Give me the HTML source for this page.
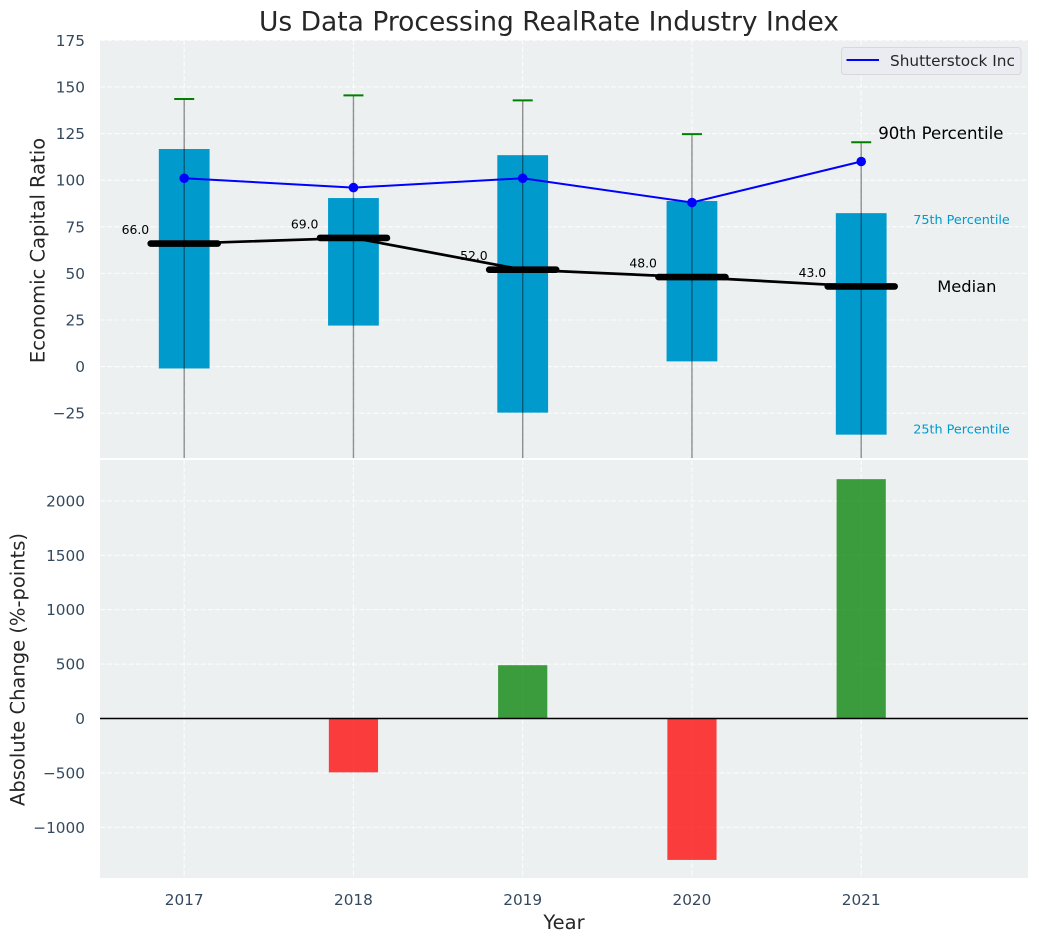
<!DOCTYPE html>
<html lang="en">
<head>
<meta charset="utf-8">
<title>Us Data Processing RealRate Industry Index</title>
<style>
html,body{margin:0;padding:0;background:#fff;}
svg{display:block;font-family:"DejaVu Sans","Liberation Sans",sans-serif;}
</style>
</head>
<body>
<svg id="chart" xmlns="http://www.w3.org/2000/svg" width="1039" height="942" viewBox="0 0 1039 942">
<defs>
<clipPath id="clip-top"><rect x="100" y="40" width="928" height="418"/></clipPath>
<clipPath id="clip-bottom"><rect x="100" y="460" width="928" height="418"/></clipPath>
</defs>
</svg>
<script>
const years = [2017, 2018, 2019, 2020, 2021];
const p90 = [143.5, 145.5, 142.8, 124.7, 120.3];
const p75 = [116.7, 90.4, 113.4, 88.8, 82.3];
const p25 = [-1, 22, -24.7, 2.8, -36.5];
const p10 = [-60, -60, -60, -60, -60];
const medians = [66, 69, 52, 48, 43];
const company = [101, 96, 101, 88, 110];
const changeYears = [2018, 2019, 2020, 2021];
const changes = [-495, 490, -1300, 2200];
const topTicks = [-25, 0, 25, 50, 75, 100, 125, 150, 175];
const bottomTicks = [-1000, -500, 0, 500, 1000, 1500, 2000];

const svg = document.getElementById('chart');
const NS = 'http://www.w3.org/2000/svg';
function x(v){ return 184.2 + (v - 2017) * 169.25; }
function yTop(v){ return 366.6 - v * 1.8645; }
function yBot(v){ return 718.5 - v * 0.1088; }
function make(tag, attrs, parent){
  const el = document.createElementNS(NS, tag);
  for (const k in attrs) el.setAttribute(k, attrs[k]);
  (parent || svg).appendChild(el);
  return el;
}
function fmt(n){ return String(n).replace('-', '\u2212'); }

const topBg = make('rect', {x:100, y:40, width:928, height:418, fill:'#ecf0f1'});


const botBg = make('rect', {x:100, y:460, width:928, height:418, fill:'#ecf0f1'});



const gridStyle = {stroke:'#ffffff', 'stroke-width':1.1, 'stroke-dasharray':'5 2.2', opacity:0.85};
topTicks.forEach(function(t){
  const g = make('line', Object.assign({x1:100, x2:1028, y1:yTop(t), y2:yTop(t)}, gridStyle));
  
  
  const l = make('text', {x:85, y:yTop(t) + 5.5, 'text-anchor':'end', 'font-size':15.3, fill:'#34495e'});
  l.textContent = fmt(t);
  
  
});
bottomTicks.forEach(function(t){
  const g = make('line', Object.assign({x1:100, x2:1028, y1:yBot(t), y2:yBot(t)}, gridStyle));
  
  
  const l = make('text', {x:85, y:yBot(t) + 5.5, 'text-anchor':'end', 'font-size':15.3, fill:'#34495e'});
  l.textContent = fmt(t);
  
  
});
years.forEach(function(yr){
  const a = make('line', Object.assign({x1:x(yr), x2:x(yr), y1:40, y2:458}, gridStyle));
  
  
  const b = make('line', Object.assign({x1:x(yr), x2:x(yr), y1:460, y2:878}, gridStyle));
  
  
  const l = make('text', {x:x(yr), y:905, 'text-anchor':'middle', 'font-size':15.3, fill:'#34495e'});
  l.textContent = yr;
  
  
});

const topLayer = make('g', {'clip-path':'url(#clip-top)'});


const botLayer = make('g', {'clip-path':'url(#clip-bottom)'});



years.forEach(function(yr, i){
  const bw = 0.3 * 169.25;
  const box = make('rect', {x:x(yr) - bw / 2, y:yTop(p75[i]), width:bw, height:yTop(p25[i]) - yTop(p75[i]), fill:'#009acd'}, topLayer);
  
  
});
years.forEach(function(yr, i){
  const w = make('line', {x1:x(yr), x2:x(yr), y1:yTop(p90[i]), y2:yTop(p10[i]), stroke:'#000', 'stroke-opacity':0.42, 'stroke-width':1.4}, topLayer);
  
  
  const c = make('line', {x1:x(yr) - 10, x2:x(yr) + 10, y1:yTop(p90[i]), y2:yTop(p90[i]), stroke:'#008000', 'stroke-width':2}, topLayer);
  
  
});

const medianLine = make('polyline', {points:years.map(function(yr, i){ return x(yr) + ',' + yTop(medians[i]); }).join(' '), fill:'none', stroke:'#000', 'stroke-width':2.7}, topLayer);


years.forEach(function(yr, i){
  const seg = make('line', {x1:x(yr) - 33.5, x2:x(yr) + 33.5, y1:yTop(medians[i]), y2:yTop(medians[i]), stroke:'#000', 'stroke-width':6.6, 'stroke-linecap':'round'}, topLayer);
  
  
  const t = make('text', {x:x(yr) - 35, y:yTop(medians[i]) - 9.5, 'text-anchor':'end', 'font-size':12.4, fill:'#000'}, topLayer);
  t.textContent = medians[i].toFixed(1);
  
  
});

const companyLine = make('polyline', {points:years.map(function(yr, i){ return x(yr) + ',' + yTop(company[i]); }).join(' '), fill:'none', stroke:'#0000ff', 'stroke-width':2}, topLayer);


years.forEach(function(yr, i){
  const d = make('circle', {cx:x(yr), cy:yTop(company[i]), r:4.8, fill:'#0000ff'}, topLayer);
  
  
});

changeYears.forEach(function(yr, i){
  const v = changes[i];
  const top = Math.min(yBot(v), yBot(0));
  const b = make('rect', {x:x(yr) - 24.6, y:top, width:49.2, height:Math.abs(yBot(v) - yBot(0)), fill:v < 0 ? '#ff0000' : '#008000', 'fill-opacity':0.75}, botLayer);
  
  
});
const zero = make('line', {x1:100, x2:1028, y1:yBot(0), y2:yBot(0), stroke:'#000', 'stroke-width':1.4});



const last = years.length - 1;
function note(name, label, tx, ty, size, color){
  const t = make('text', {x:tx, y:ty, 'font-size':size, fill:color});
  t.textContent = label;
  
  
}
note('p90-annotation', '90th Percentile', x(years[last]) + 17, yTop(p90[last]) - 3.5, 16.6, '#000');
note('p75-annotation', '75th Percentile', x(years[last]) + 52, yTop(p75[last]) + 11, 12.8, '#009acd');
note('median-annotation', 'Median', x(years[last]) + 76, yTop(medians[last]) + 5.5, 16.3, '#000');
note('p25-annotation', '25th Percentile', x(years[last]) + 52, yTop(p25[last]) - 1, 12.8, '#009acd');

const legend = make('g', {});


const legendBox = make('rect', {x:841.5, y:47.5, width:179.5, height:27, rx:3, fill:'#eaecf1', stroke:'#d8d8dc', 'stroke-width':1}, legend);


const legendLine = make('line', {x1:846.5, x2:879, y1:60, y2:60, stroke:'#0000ff', 'stroke-width':2}, legend);


const legendText = make('text', {x:890, y:66, 'font-size':15.3, fill:'#262626'}, legend);
legendText.textContent = 'Shutterstock Inc';



const title = make('text', {x:549, y:30.5, 'text-anchor':'middle', 'font-size':26.5, fill:'#262626'});
title.textContent = 'Us Data Processing RealRate Industry Index';


const yt1 = make('text', {x:0, y:0, 'text-anchor':'middle', 'font-size':19.5, fill:'#262626', transform:'translate(44.5 250.5) rotate(-90)'});
yt1.textContent = 'Economic Capital Ratio';


const yt2 = make('text', {x:0, y:0, 'text-anchor':'middle', 'font-size':19.5, fill:'#262626', transform:'translate(24.5 669.5) rotate(-90)'});
yt2.textContent = 'Absolute Change (%-points)';


const xt = make('text', {x:564, y:929, 'text-anchor':'middle', 'font-size':19.5, fill:'#262626'});
xt.textContent = 'Year';


</script>
</body>
</html>
